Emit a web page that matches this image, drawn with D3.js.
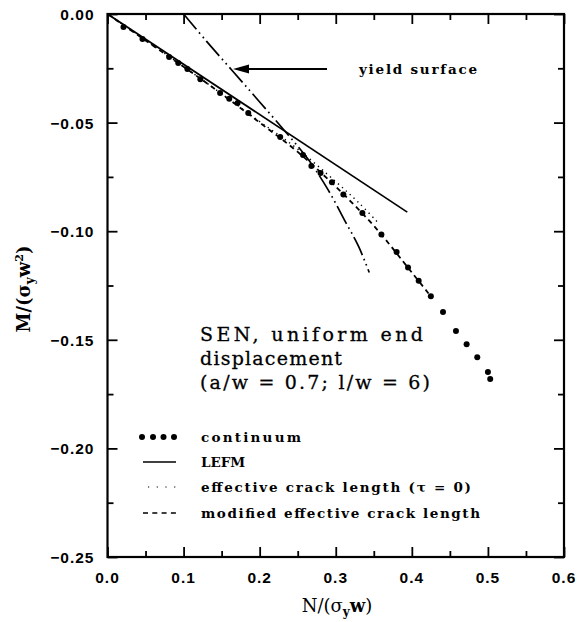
<!DOCTYPE html>
<html>
<head>
<meta charset="utf-8">
<script src="https://cdn.jsdelivr.net/npm/d3@7"></script>
<style>
  html, body { margin: 0; padding: 0; background: #fff; }
  svg { display: block; }
</style>
</head>
<body>
<svg id="chart" width="580" height="622"></svg>
<script>
// Moment–force interaction for the SEN specimen (a/w = 0.7, l/w = 6)

// continuum solution (dots)
const contN = [0.021, 0.046, 0.081, 0.093, 0.105, 0.122, 0.148, 0.160, 0.171, 0.185,
               0.227, 0.257, 0.268, 0.280, 0.295, 0.310, 0.335, 0.360, 0.380, 0.395,
               0.409, 0.425, 0.441, 0.458, 0.472, 0.486, 0.500, 0.503];
const contM = [-0.0060, -0.0115, -0.0198, -0.0226, -0.0253, -0.0300, -0.0364, -0.0390, -0.0410, -0.0456,
               -0.0566, -0.0649, -0.0700, -0.0732, -0.0775, -0.0831, -0.0916, -0.1015, -0.1096, -0.1167,
               -0.1228, -0.1300, -0.1372, -0.1460, -0.1520, -0.1580, -0.1648, -0.1680];

// LEFM (straight line)
const lefmN = [0.0, 0.394];
const lefmM = [0.0, -0.0912];

// effective crack length (tau = 0)
const effN = [0.0, 0.10, 0.20, 0.25, 0.30, 0.33, 0.356];
const effM = [0.0, -0.0242, -0.0495, -0.0622, -0.0772, -0.0868, -0.0962];

// modified effective crack length
const modN = [0.0, 0.05, 0.10, 0.15, 0.20, 0.25, 0.30, 0.35, 0.40, 0.425];
const modM = [0.0, -0.0122, -0.0243, -0.0368, -0.0500, -0.0635, -0.0795, -0.0975, -0.1190, -0.1300];

// yield surface
const yieldN = [0.10, 0.13, 0.165, 0.20, 0.2375, 0.265, 0.29, 0.312, 0.33, 0.344];
const yieldM = [0.0, -0.0125, -0.0265, -0.0405, -0.0557, -0.0675, -0.0810, -0.0952, -0.1070, -0.1190];

// axis ticks
const xMajor = [0.0, 0.1, 0.2, 0.3, 0.4, 0.5, 0.6];
const xMinor = [0.05, 0.15, 0.25, 0.35, 0.45, 0.55];
const yMajor = [0.00, -0.05, -0.10, -0.15, -0.20, -0.25];
const yMinor = [-0.025, -0.075, -0.125, -0.175, -0.225];

const legendLabels = ["continuum", "LEFM", "effective crack length (\u03C4 = 0)", "modified effective crack length"];

const svg = d3.select("#chart");
const L = 107.5, R = 564, T = 14, B = 557;

const x = d3.scaleLinear().domain([0, 0.6]).range([L, R]);
const y = d3.scaleLinear().domain([-0.25, 0]).range([B, T]);

const zip = (a, b) => a.map((v, i) => [v, b[i]]);
const line = d3.line().x(d => x(d[0])).y(d => y(d[1]));
const smooth = d3.line().x(d => x(d[0])).y(d => y(d[1])).curve(d3.curveCatmullRom);

const tickFont = "'Liberation Sans', Arial, sans-serif";
const serif = "'DejaVu Serif', 'Liberation Serif', serif";

// axes with inward ticks on all four sides
function axisPair(gen, scale, vals, len, pos) {
  return svg.append("g")
    .attr("transform", pos)
    .call(gen(scale).tickValues(vals).tickSize(len).tickFormat(""))
    .call(g => g.select(".domain").remove())
    .call(g => g.selectAll("line").attr("stroke", "#000").attr("stroke-width", 1.8));
}
axisPair(d3.axisTop, x, xMajor, 10, `translate(0,${B})`);
axisPair(d3.axisTop, x, xMinor, 6, `translate(0,${B})`);
axisPair(d3.axisBottom, x, xMajor, 10, `translate(0,${T})`);
axisPair(d3.axisBottom, x, xMinor, 6, `translate(0,${T})`);
axisPair(d3.axisRight, y, yMajor, 10, `translate(${L},0)`);
axisPair(d3.axisRight, y, yMinor, 6, `translate(${L},0)`);
axisPair(d3.axisLeft, y, yMajor, 10, `translate(${R},0)`);
axisPair(d3.axisLeft, y, yMinor, 6, `translate(${R},0)`);

svg.append("rect")
  .attr("x", L).attr("y", T).attr("width", R - L).attr("height", B - T)
  .attr("fill", "none").attr("stroke", "#000").attr("stroke-width", 2.2);

// tick labels
svg.append("g").selectAll("text").data(xMajor).join("text")
  .attr("x", d => x(d)).attr("y", B + 26)
  .attr("text-anchor", "middle")
  .attr("font-family", tickFont).attr("font-weight", "bold").attr("font-size", 15.5)
  .attr("letter-spacing", 1)
  .text(d => d3.format(".1f")(d));

svg.append("g").selectAll("text").data(yMajor).join("text")
  .attr("x", L - 13).attr("y", d => y(d) + 6)
  .attr("text-anchor", "end")
  .attr("font-family", tickFont).attr("font-weight", "bold").attr("font-size", 15.5)
  .attr("letter-spacing", 1)
  .text(d => d === 0 ? "0.00" : "\u22120." + d3.format("02d")(Math.round(-d * 100)));

// axis titles
const xt = svg.append("text")
  .attr("x", 337).attr("y", 612).attr("text-anchor", "middle")
  .attr("font-family", serif).attr("font-size", 18);
xt.append("tspan").text("N/(\u03C3");
xt.append("tspan").attr("font-size", 12).attr("dy", 4).attr("font-weight", "bold").text("y");
xt.append("tspan").attr("dy", -4).attr("font-weight", "bold").text("w");
xt.append("tspan").text(")");

const yt = svg.append("text")
  .attr("transform", "translate(30,289) rotate(-90)")
  .attr("text-anchor", "middle")
  .attr("font-family", serif).attr("font-weight", "bold").attr("font-size", 18);
yt.append("tspan").text("M/(\u03C3");
yt.append("tspan").attr("font-size", 12).attr("dy", 4).text("y");
yt.append("tspan").attr("dy", -4).text("w");
yt.append("tspan").attr("font-size", 11).attr("dy", -7).text("2");
yt.append("tspan").attr("dy", 7).text(")");

// curves
svg.append("path").datum(zip(lefmN, lefmM)).attr("d", line)
  .attr("fill", "none").attr("stroke", "#000").attr("stroke-width", 1.7);

svg.append("path").datum(zip(yieldN, yieldM)).attr("d", smooth)
  .attr("fill", "none").attr("stroke", "#000").attr("stroke-width", 1.7)
  .attr("stroke-dasharray", "20,4,1.6,4,1.6,4");

svg.append("path").datum(zip(effN, effM)).attr("d", smooth)
  .attr("fill", "none").attr("stroke", "#000").attr("stroke-width", 1.4)
  .attr("stroke-dasharray", "1.3,4");

svg.append("path").datum(zip(modN, modM)).attr("d", smooth)
  .attr("fill", "none").attr("stroke", "#000").attr("stroke-width", 1.8)
  .attr("stroke-dasharray", "5,4");

svg.append("g").selectAll("circle").data(zip(contN, contM)).join("circle")
  .attr("cx", d => x(d[0])).attr("cy", d => y(d[1])).attr("r", 3)
  .attr("fill", "#000");

// yield surface annotation
svg.append("line").attr("x1", 327).attr("y1", 69).attr("x2", 246).attr("y2", 69)
  .attr("stroke", "#000").attr("stroke-width", 1.8);
svg.append("path").attr("d", "M233,69 L249,64.5 L249,73.5 Z").attr("fill", "#000");
svg.append("text").attr("x", 359).attr("y", 74)
  .attr("font-family", serif).attr("font-weight", "bold").attr("font-size", 13.5)
  .attr("textLength", 118).attr("lengthAdjust", "spacing")
  .text("yield surface");

// specimen description
const desc = [["SEN, uniform end", 341, 223], ["displacement", 365, 142], ["(a/w = 0.7; l/w = 6)", 389, 230]];
svg.append("g").selectAll("text").data(desc).join("text")
  .attr("x", 200).attr("y", d => d[1])
  .attr("font-family", serif).attr("font-size", 19)
  .attr("stroke", "#000").attr("stroke-width", 0.3)
  .attr("textLength", d => d[2]).attr("lengthAdjust", "spacing")
  .text(d => d[0]);

// legend
const rowY = [437, 462, 487, 513];
const textLen = [100, null, 270, 279];
const lg = svg.append("g");
lg.selectAll("circle").data([142, 153, 163.5, 174]).join("circle")
  .attr("cx", d => d).attr("cy", rowY[0]).attr("r", 3).attr("fill", "#000");
lg.append("line").attr("x1", 143).attr("x2", 176).attr("y1", rowY[1]).attr("y2", rowY[1])
  .attr("stroke", "#000").attr("stroke-width", 1.7);
lg.append("line").attr("x1", 148).attr("x2", 176).attr("y1", rowY[2]).attr("y2", rowY[2])
  .attr("stroke", "#000").attr("stroke-width", 1.2).attr("stroke-dasharray", "1.2,7.5");
lg.append("line").attr("x1", 143).attr("x2", 176).attr("y1", rowY[3]).attr("y2", rowY[3])
  .attr("stroke", "#000").attr("stroke-width", 1.6).attr("stroke-dasharray", "5,4.3");
lg.selectAll("text").data(legendLabels).join("text")
  .attr("x", 201).attr("y", (d, i) => rowY[i] + 4.5)
  .attr("font-family", serif).attr("font-weight", "bold").attr("font-size", 13.5)
  .attr("textLength", (d, i) => textLen[i])
  .attr("lengthAdjust", (d, i) => textLen[i] ? "spacing" : null)
  .text(d => d);
</script>
</body>
</html>
